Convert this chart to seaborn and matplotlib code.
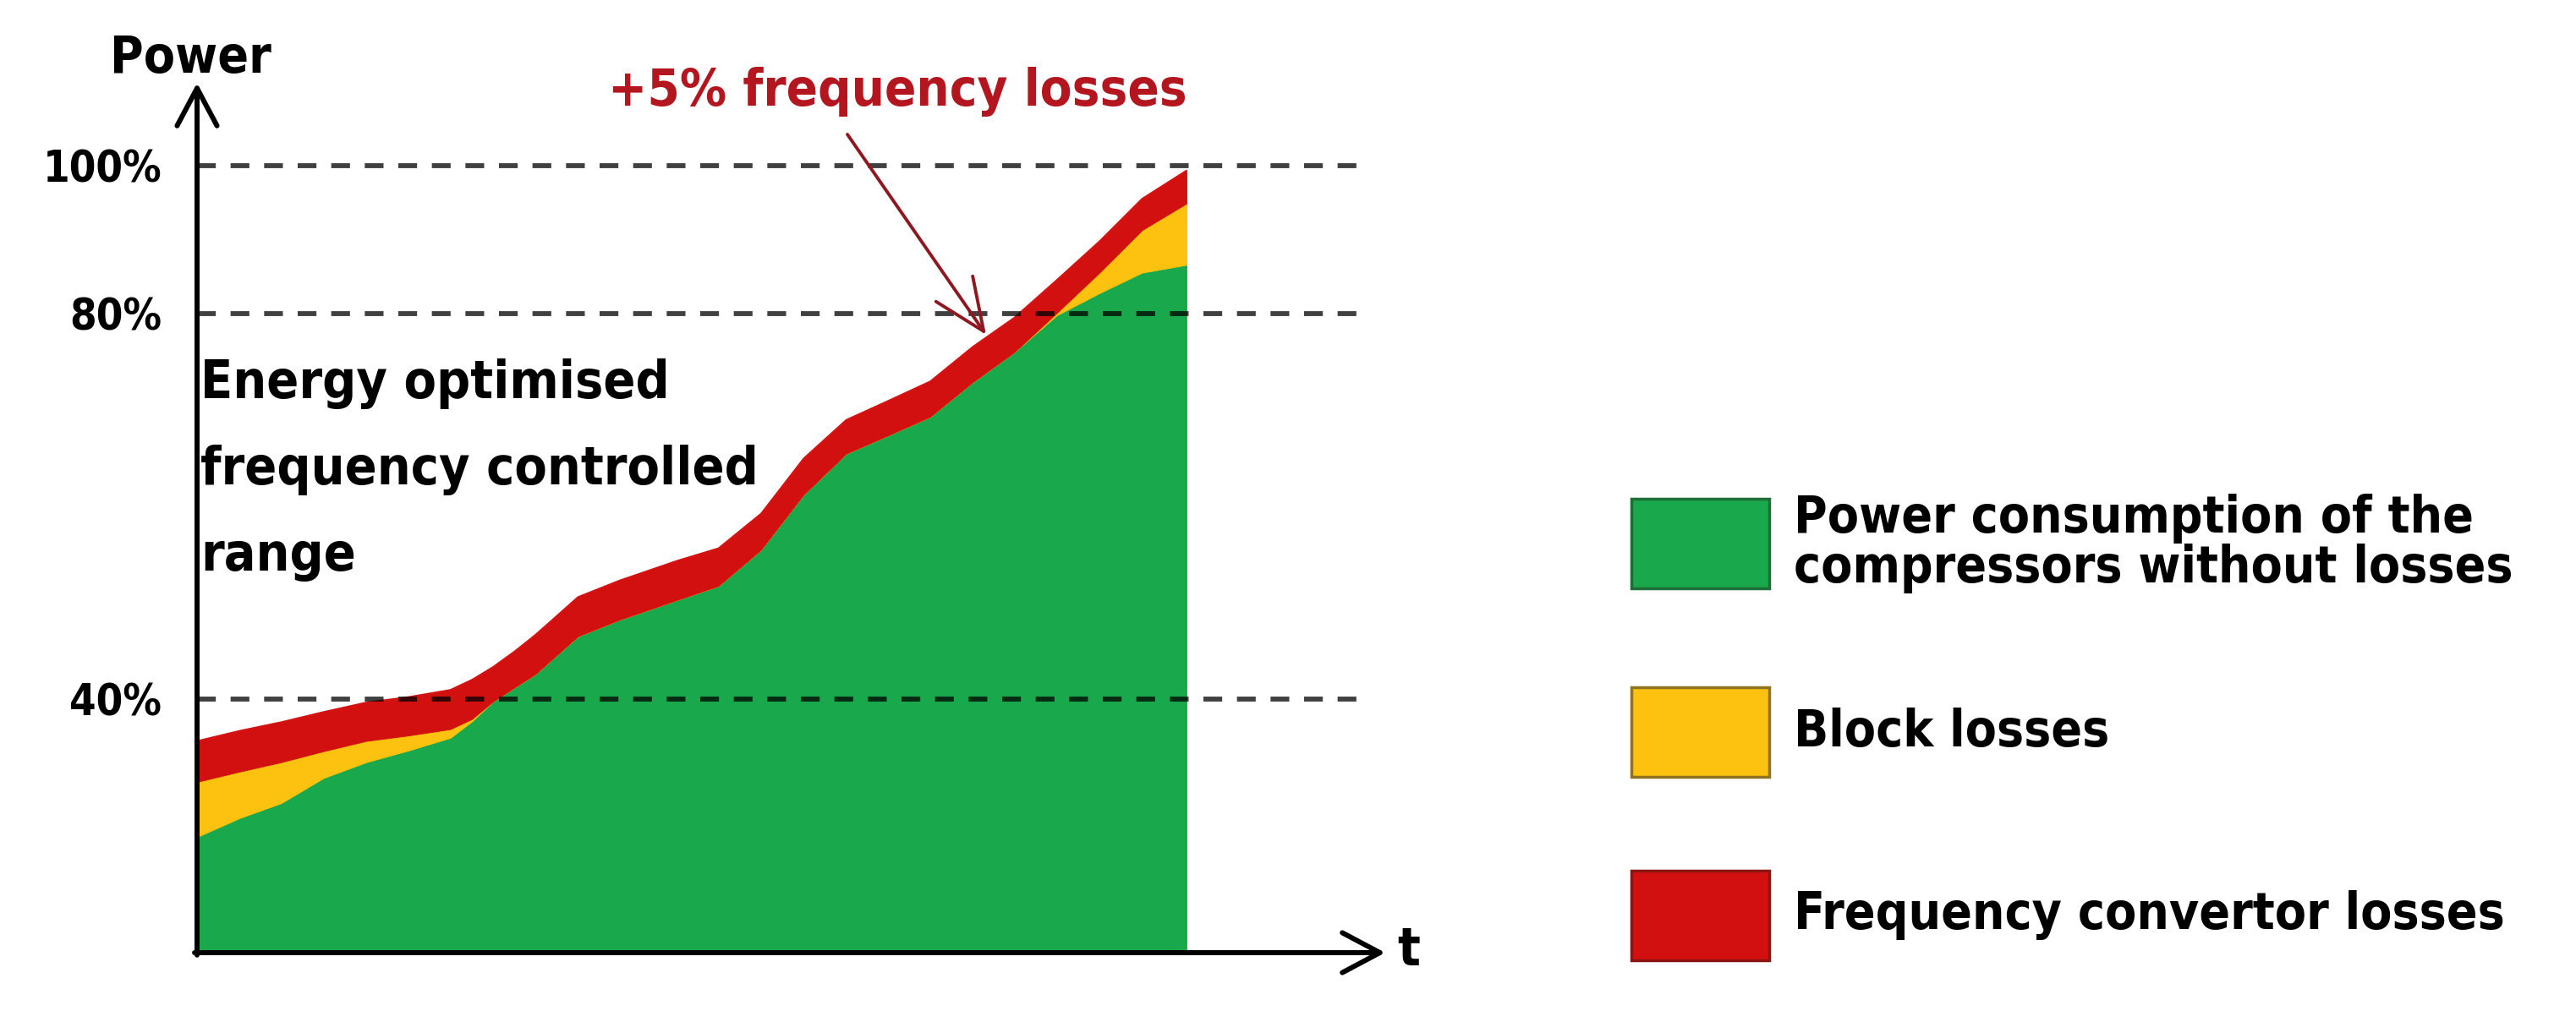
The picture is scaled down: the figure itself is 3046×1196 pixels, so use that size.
import matplotlib
matplotlib.use("Agg")
import matplotlib.pyplot as plt
import seaborn as sns
from matplotlib import font_manager
from matplotlib.patches import Rectangle

# time axis (0 = start of range, 100 = end of the green area)
time = [0, 4.3, 8.5, 12.8, 17.1, 21.4, 25.6, 27.8, 29.9, 32.1, 34.2, 38.5, 42.7,
        48.5, 52.7, 57.0, 61.3, 65.6, 69.8, 74.1, 78.4, 82.6, 86.9, 91.2, 95.5, 100]

# stacked layers (height of the 100% line = 100)
compressor = [14.7, 17.1, 19.0, 22.2, 24.2, 25.7, 27.3, 29.4, 31.9, 33.7, 35.4, 40.2, 42.3,
              44.8, 46.6, 51.2, 58.2, 63.4, 65.7, 68.1, 72.5, 76.3, 81.0, 83.8, 86.4, 87.4]
block = [7.0, 5.9, 5.2, 3.4, 2.7, 1.9, 1.1, 0.3, 0, 0, 0, 0, 0,
         0, 0, 0, 0, 0, 0, 0, 0, 0, 0.3, 2.6, 5.4, 7.8]
converter = [5.2, 5.2, 5.1, 5.0, 4.9, 4.9, 5.0, 5.0, 4.4, 4.6, 5.0, 5.0, 5.0,
             5.0, 4.8, 4.6, 4.6, 4.3, 4.4, 4.5, 4.5, 4.4, 4.2, 4.0, 4.0, 4.2]

# schematic power levels (the axis is not linear in the original)
level_pos = [32.2, 81.2, 100]
level_labels = ["40%", "80%", "100%"]

legend_labels = ["Power consumption of the\ncompressors without losses",
                 "Block losses",
                 "Frequency convertor losses"]
text_lines = ["Energy optimised", "frequency controlled", "range"]

GREEN = "#19a84b"
YELLOW = "#fdc10f"
RED = "#d31010"
TEXT_RED = "#b3161f"
ARROW_RED = "#8e1820"
legend_colors = [GREEN, YELLOW, RED]
legend_edges = ["#1f6e37", "#8f7420", "#8b1515"]

sns.set_theme(style="white")
names = {f.name for f in font_manager.fontManager.ttflist}
if "Liberation Sans Narrow" in names:
    family, stretch, k = "Liberation Sans Narrow", "normal", 1.0
else:
    family, stretch, k = "DejaVu Sans", "condensed", 0.775
plt.rcParams["font.family"] = [family, "DejaVu Sans"]
plt.rcParams["font.weight"] = "bold"
plt.rcParams["font.stretch"] = stretch
plt.rcParams["text.color"] = "black"
plt.rcParams["ytick.color"] = "black"

W, H = 3046, 1196
fig = plt.figure(figsize=(W / 100, H / 100), dpi=100)
# axes origin sits on the drawn axis corner (px 233, 1127)
ax = fig.add_axes([233 / W, (H - 1127) / H, (1700 - 233) / W, 1127 / H])

ax.stackplot(time, compressor, block, converter, colors=legend_colors,
             edgecolor="face", linewidth=0.6, zorder=2)
total = [a + b + c for a, b, c in zip(compressor, block, converter)]
sns.lineplot(x=time, y=total, color=RED, lw=1.2, ax=ax, zorder=2)

ax.set_xlim(0, (1700 - 233) / 11.7)
ax.set_ylim(0, 1127 / 9.31)

# dashed reference levels
for lvl in level_pos:
    ax.plot([0, (1612 - 233) / 11.7], [lvl, lvl], color="black", alpha=0.75,
            lw=4.2, ls=(0, (3.8, 3.0)), zorder=3, solid_capstyle="butt")

ax.set_xticks([])
ax.set_yticks(level_pos, level_labels, fontsize=47 * k, fontweight="bold")
ax.tick_params(axis="y", length=0, pad=30)
ax.set_xlabel("")
ax.set_ylabel("")
for s in ax.spines.values():
    s.set_visible(False)

# axis arrows
head = "->,head_length=1.6,head_width=0.85"
ax.annotate("", xy=(0, (1127 - 98) / 9.31), xytext=(0, -0.3),
            arrowprops=dict(arrowstyle=head, lw=4.3, color="black", shrinkA=0,
                            shrinkB=0, mutation_scale=20),
            annotation_clip=False, zorder=4)
ax.annotate("", xy=((1638 - 233) / 11.7, 0), xytext=(-0.25, 0),
            arrowprops=dict(arrowstyle=head, lw=4.3, color="black", shrinkA=0,
                            shrinkB=0, mutation_scale=20),
            annotation_clip=False, zorder=4)

fig.text(130 / W, 1 - 86 / H, "Power", fontsize=56 * k, va="baseline", ha="left")
fig.text(1652 / W, 1 - 1125 / H, "t", fontsize=58 * k, va="center", ha="left")

# annotation
fig.text(719 / W, 1 - 125 / H, "+5% frequency losses", fontsize=57 * k,
         color=TEXT_RED, va="baseline", ha="left")
ax.annotate("", xy=(1166, H - 396), xycoords="figure pixels",
            xytext=(1002, H - 159), textcoords="figure pixels",
            arrowprops=dict(arrowstyle="->,head_length=2.2,head_width=0.95", lw=2.8,
                            color=ARROW_RED, shrinkA=0, shrinkB=0, mutation_scale=20),
            zorder=5)

for line, base in zip(text_lines, [471, 573, 675]):
    fig.text(237 / W, 1 - base / H, line, fontsize=58 * k, va="baseline", ha="left")

# legend
for label, col, edge, yc in zip(legend_labels, legend_colors, legend_edges, [643, 866, 1083]):
    fig.add_artist(Rectangle((1929 / W, 1 - (yc + 53) / H), 163 / W, 106 / H,
                             facecolor=col, edgecolor=edge, lw=2.5,
                             transform=fig.transFigure))
    fig.text(2121 / W, 1 - yc / H, label, fontsize=56 * k, va="center", ha="left",
             linespacing=1.0)

fig.savefig("out.png", dpi=100, facecolor="white")
